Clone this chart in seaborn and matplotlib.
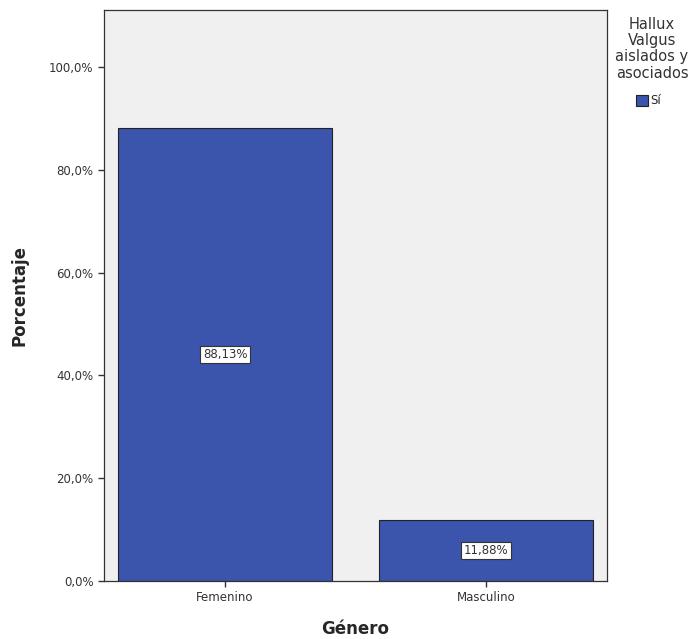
import matplotlib
matplotlib.use("Agg")
import matplotlib.pyplot as plt
import seaborn as sns
import pandas as pd
from matplotlib.patches import Patch

categories = ["Femenino", "Masculino"]
values = [88.13, 11.88]
value_labels = ["88,13%", "11,88%"]
yticks = [0, 20, 40, 60, 80, 100]
ytick_labels = ["0,0%", "20,0%", "40,0%", "60,0%", "80,0%", "100,0%"]
legend_title = "Hallux\nValgus\naislados y\nasociados"
legend_label = "Sí"

bar_color = "#3b54ac"

sns.set_style("white")
plt.rcParams['font.family'] = ['DejaVu Sans']

df = pd.DataFrame({"Género": categories, "Porcentaje": values})

fig = plt.figure(figsize=(7, 6.39), dpi=100)
ax = fig.add_axes([104/700, 1-581/639, (607-104)/700, (581-10)/639])
ax.set_facecolor("#f0f0f0")

sns.barplot(data=df, x="Género", y="Porcentaje", color=bar_color, width=0.82,
            saturation=1, edgecolor="#222222", linewidth=0.8, ax=ax)

ax.set_xlim(-0.464, 1.464)
ax.set_ylim(0, 111.1)
ax.set_yticks(yticks)
ax.set_yticklabels(ytick_labels, fontsize=8.5, color="#333333")
ax.tick_params(axis="x", labelsize=8.5, colors="#333333", length=4, width=1, bottom=True)
ax.tick_params(axis="y", length=4, width=1, colors="#333333", left=True)

for s in ax.spines.values():
    s.set_color("#333333")
    s.set_linewidth(0.9)

ax.set_xlabel("Género", fontsize=12, fontweight="bold", labelpad=11)
ax.set_ylabel("Porcentaje", fontsize=12, fontweight="bold", labelpad=15)

for i, (v, t) in enumerate(zip(values, value_labels)):
    ax.text(i, v/2, t, ha="center", va="center", fontsize=8.5, color="#333333",
            bbox=dict(boxstyle="square,pad=0.2", fc="white", ec="#333333", lw=0.8))

fig.text(652/700, 1-17/639, legend_title, ha="center", va="top", fontsize=10.5,
         color="#333333", linespacing=1.1)
handle = Patch(facecolor=bar_color, edgecolor="#222222", linewidth=0.8)
leg = fig.legend([handle], [legend_label], loc="center left",
                 bbox_to_anchor=(630/700, 1-101/639), frameon=False,
                 fontsize=8.5, handlelength=1.0, handleheight=1.0, handletextpad=0.2,
                 borderpad=0)

fig.savefig("out.png", dpi=100, facecolor="white")
